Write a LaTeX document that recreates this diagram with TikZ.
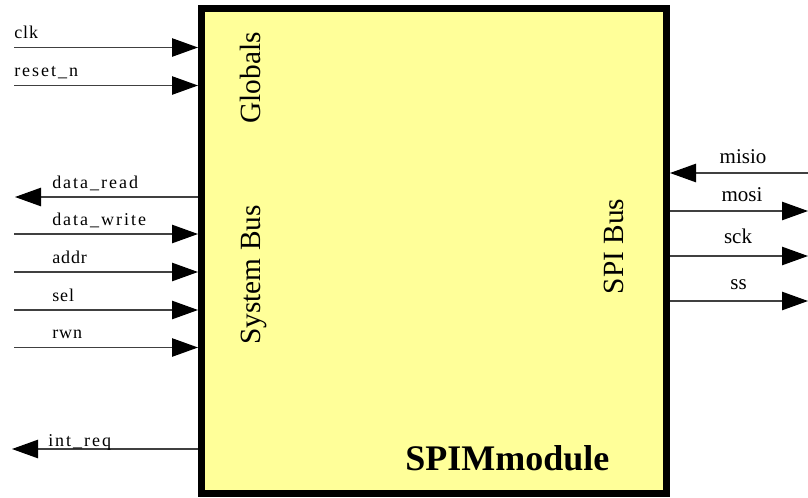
\documentclass[tikz,border=0pt]{standalone}
\usepackage{fontspec}
\setmainfont{Liberation Serif}
\newfontfamily\wirefont{Liberation Serif}[LetterSpace=5]
\newfontfamily\widefont{Liberation Serif}[LetterSpace=11]
\usetikzlibrary{arrows.meta}
\definecolor{boxfill}{HTML}{FFFF99}
\definecolor{wirecol}{HTML}{404040}

\begin{document}
\begin{tikzpicture}[x=0.75pt,y=-0.75pt,
  wire/.style={line width=0.9pt, draw=wirecol},
  sig/.style={wire, -{Triangle[length=19.5pt,width=13.8pt,color=black]}},
  lbl/.style={anchor=base west, inner sep=0pt, font=\wirefont\fontsize{13.5pt}{16pt}\selectfont},
  lblwide/.style={lbl, font=\widefont\fontsize{13.5pt}{16pt}\selectfont},
  rlbl/.style={anchor=base, inner sep=0pt, font=\fontsize{15.75pt}{18pt}\selectfont},
  group/.style={anchor=base, inner sep=0pt, rotate=90, font=\fontsize{22pt}{26pt}\selectfont},
  modbox/.style={draw=black, fill=boxfill, line width=5.25pt, inner sep=0pt,
                 minimum width=348.75pt, minimum height=364.1pt}]
\useasboundingbox (0,0) rectangle (808,497);

% module body
\node[modbox] (spim) at (434,251.25) {};

% free ends of the wires
\coordinate (clk)  at (14,47.5);
\coordinate (rst)  at (14,85.5);
\coordinate (drd)  at (15,197);
\coordinate (dwr)  at (14,234);
\coordinate (adr)  at (14,272);
\coordinate (sel)  at (14,310);
\coordinate (rwn)  at (14,347.5);
\coordinate (irq)  at (12,449);
\coordinate (miso) at (808,173);
\coordinate (mosi) at (808,211);
\coordinate (sck)  at (808,256);
\coordinate (ss)   at (808,301);

% globals
\draw[sig] (clk) -- (clk -| spim.west);
\draw[sig] (rst) -- (rst -| spim.west);
% system bus
\draw[sig] (drd -| spim.west) -- (drd);
\draw[sig] (dwr) -- (dwr -| spim.west);
\draw[sig] (adr) -- (adr -| spim.west);
\draw[sig] (sel) -- (sel -| spim.west);
\draw[sig] (rwn) -- (rwn -| spim.west);
\draw[sig] (irq -| spim.west) -- (irq);
% spi bus
\draw[sig] (miso) -- (miso -| spim.east);
\draw[sig] (mosi -| spim.east) -- (mosi);
\draw[sig] (sck -| spim.east) -- (sck);
\draw[sig] (ss -| spim.east) -- (ss);

% signal names
\node[lbl]     (tclk) at (14,38)  {clk};
\node[lblwide] (trst) at (14,76)  {reset\_n};
\node[lblwide] (tdrd) at (52,188) {data\_read};
\node[lblwide] (tdwr) at (52,225) {data\_write};
\node[lbl]     (tadr) at (52,263) {addr};
\node[lbl]     (tsel) at (52,301) {sel};
\node[lbl]     (trwn) at (52,338) {rwn};
\node[lblwide] (tirq) at (48,446) {int\_req};
\node[rlbl] (tmiso) at (743,163) {misio};
\node[rlbl] (tmosi) at (742,201) {mosi};
\node[rlbl] (tsck)  at (738,243) {sck};
\node[rlbl] (tss)   at (738.5,289) {ss};

% interface groups
\node[group] (gglob) at (260,78)    {Globals};
\node[group] (gsys)  at (260,275)   {System Bus};
\node[group] (gspi)  at (623,246.5) {SPI Bus};

% module name
\node[anchor=base west, inner sep=0pt, font=\bfseries\fontsize{27pt}{32pt}\selectfont]
  (tname) at (405,470) {SPIMmodule};
\end{tikzpicture}
\end{document}
